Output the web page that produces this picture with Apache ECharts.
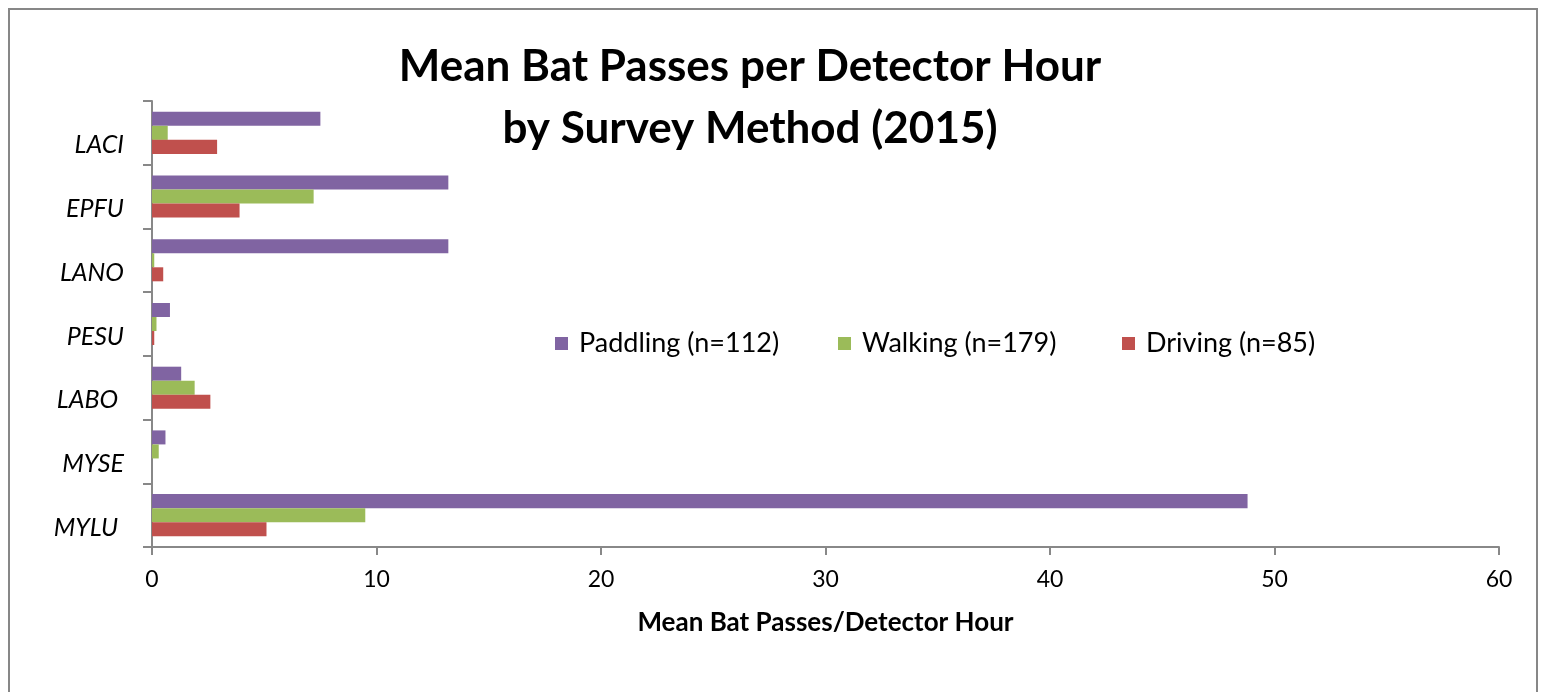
<!DOCTYPE html>
<html><head><meta charset="utf-8">
<script src="https://cdn.jsdelivr.net/npm/echarts@6/dist/echarts.min.js"></script>
<style>html,body{margin:0;padding:0;background:#fff}#c{width:1546px;height:692px}</style>
</head><body><div id="c"></div>
<script>
const categories = ['MYLU ', 'MYSE', 'LABO ', 'PESU', 'LANO', 'EPFU', 'LACI'];
const paddling = [48.8, 0.6, 1.3, 0.8, 13.2, 13.2, 7.5];
const walking = [9.5, 0.3, 1.9, 0.2, 0.1, 7.2, 0.7];
const driving = [5.1, 0, 2.6, 0.1, 0.5, 3.9, 2.9];
const seriesNames = ['Paddling (n=112)', 'Walking (n=179)', 'Driving (n=85)'];
const xTicks = [0, 10, 20, 30, 40, 50, 60];

const FONT = 'Lato';
const chart = echarts.init(document.getElementById('c'), null, {renderer: 'canvas'});
const legendBase = {top: 325, itemWidth: 13, itemHeight: 13, icon: 'rect', itemGap: 0,
  textStyle: {fontFamily: FONT, fontSize: 27, color: '#000', padding: [0, 0, 0, 6]}};
chart.setOption({
  animation: false,
  backgroundColor: '#fff',
  graphic: [{type: 'rect', shape: {x: 9, y: 9, width: 1528, height: 700},
    style: {fill: 'none', stroke: '#878787', lineWidth: 2}, silent: true}],
  title: {text: 'Mean Bat Passes per Detector Hour\nby Survey Method (2015)', left: 745, top: 31, textAlign: 'center',
    textStyle: {fontFamily: FONT, fontWeight: 'bold', fontSize: 44, lineHeight: 62, color: '#000'}},
  legend: [
    Object.assign({}, legendBase, {left: 550, data: [seriesNames[0]]}),
    Object.assign({}, legendBase, {left: 833, data: [seriesNames[1]]}),
    Object.assign({}, legendBase, {left: 1117, data: [seriesNames[2]]})
  ],
  grid: {left: 152, right: 47, top: 101, bottom: 145, containLabel: false},
  xAxis: {type: 'value', min: 0, max: 60, interval: 10,
    name: 'Mean Bat Passes/Detector Hour', nameLocation: 'middle', nameGap: 63,
    nameTextStyle: {fontFamily: FONT, fontWeight: 'bold', fontSize: 26, color: '#000'},
    axisLine: {show: true, lineStyle: {color: '#888', width: 2}},
    axisTick: {show: true, length: 8, lineStyle: {color: '#888', width: 2}},
    axisLabel: {fontFamily: FONT, fontSize: 23, color: '#000', margin: 21},
    splitLine: {show: false}},
  yAxis: {type: 'category', data: categories,
    axisLine: {lineStyle: {color: '#888', width: 2}},
    axisTick: {show: true, length: 9, lineStyle: {color: '#888', width: 2}},
    axisLabel: {fontFamily: FONT, fontStyle: 'italic', fontSize: 25, color: '#000', margin: 28, verticalAlign: 'top'}},
  series: [
    {name: seriesNames[0], type: 'bar', data: paddling, itemStyle: {color: '#8064A2'}, barGap: '0%', barCategoryGap: '34%'},
    {name: seriesNames[1], type: 'bar', data: walking, itemStyle: {color: '#9BBB59'}, barGap: '0%', barCategoryGap: '34%'},
    {name: seriesNames[2], type: 'bar', data: driving, itemStyle: {color: '#C0504D'}, barGap: '0%', barCategoryGap: '34%'}
  ]
});
</script></body></html>
